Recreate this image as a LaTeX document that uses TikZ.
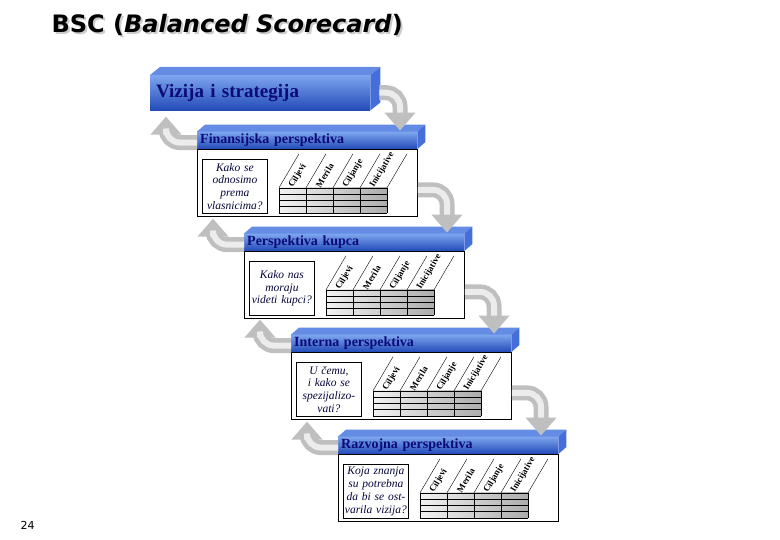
\documentclass[tikz,border=0pt]{standalone}
\usepackage{fontspec}
\setmainfont{Liberation Serif}
\newfontfamily\naslovfont{DejaVu Sans}
\usetikzlibrary{arrows.meta}

\definecolor{tamnoplava}{RGB}{10,10,120}
\definecolor{plavasvetla}{RGB}{125,165,238}
\definecolor{plavatamna}{RGB}{35,75,185}
\definecolor{plavastrana}{RGB}{70,110,218}
\definecolor{plavagore}{RGB}{100,140,228}

\tikzset{
  traka/.style={top color=plavasvetla, bottom color=plavatamna, inner sep=0pt, inner xsep=3pt,
    text width=214pt, align=left, minimum height=17pt, anchor=south west, text=tamnoplava,
    font=\bfseries\fontsize{14}{14}\selectfont},
  telo/.style={draw, fill=white, line width=0.8pt, minimum width=220pt, minimum height=67pt,
    inner sep=0pt, anchor=north west},
  pitanje/.style={draw, fill=white, line width=0.8pt, text width=64pt, align=center,
    minimum height=54pt, inner sep=0.5pt, anchor=north west, text=tamnoplava!50!black,
    font=\itshape\fontsize{11.5}{12.8}\selectfont},
  kolona/.style={rotate=59, anchor=west, inner sep=0pt, font=\bfseries\fontsize{9}{9}\selectfont},
  strelica/.style={line width=15pt, draw=gray!50, rounded corners=14pt,
    -{Triangle[width=30pt,length=18pt]}},
  sjaj/.style={line width=6pt, draw=gray!15, rounded corners=14pt, shorten >=18pt}
}

% jedna perspektiva: ime, polozaj tela, naslov, pitanje
\newcommand{\perspektiva}[4]{%
  \node[telo] (#1) at (#2) {};
  \node[traka] (#1-n) at (#1.north west) {#3};
  \fill[plavagore] (#1-n.north west) -- ++(8,-7) -- ([shift={(8,-7)}]#1-n.north east) -- (#1-n.north east) -- cycle;
  \fill[plavastrana] (#1-n.north east) -- ++(8,-7) -- ([shift={(8,-7)}]#1-n.south east) -- (#1-n.south east) -- cycle;
  \node[pitanje] (#1-p) at ([shift={(5,10)}]#1.north west) {#4};
  % tabela
  \coordinate (#1-t) at ([shift={(82,-4)}]#1.south west);
  \shade[left color=gray!10, right color=gray!65] (#1-t) rectangle ++(108,-25);
  \foreach \i in {0,...,4} {
    \draw ([shift={(27*\i,0)}]#1-t) -- ++(0,-25);
    \draw ([shift={(0,-6.25*\i)}]#1-t) -- ++(108,0);
    \draw[thin] ([shift={(27*\i,-25)}]#1-t) -- ++(20,-34);
  }
  \foreach \lab [count=\i from 0] in {Ciljevi,Merila,Ciljanje,Inicijative}
    \node[kolona] at ([shift={(27*\i+12,-26)}]#1-t) {\lab};
  % krajevi strelica
  \coordinate (#1-d) at ([shift={(0,7)}]#1.east);
  \coordinate (#1-g) at ([shift={(203,-1)}]#1-n.north west);
  \coordinate (#1-l) at ([shift={(0,11)}]#1-n.north west);
}

\begin{document}
\begin{tikzpicture}[x=1pt, y=-1pt]
  \useasboundingbox (0,0) rectangle (780,540);

  %naslov
  \node[anchor=base west, text=gray!40, font=\naslovfont\bfseries\fontsize{24}{24}\selectfont]
    (senka) at (50,35) {BSC (\textit{Balanced Scorecard})};
  \node[anchor=base west, font=\naslovfont\bfseries\fontsize{24}{24}\selectfont]
    (naslov) at (48,33) {BSC (\textit{Balanced Scorecard})};

  %vizija
  \node[traka, anchor=north west, minimum height=35pt, inner xsep=6pt, text width=208pt,
    font=\bfseries\fontsize{19}{19}\selectfont] (viz) at (150,75) {Vizija i strategija};
  \fill[plavagore] (viz.north west) -- ++(10,-8) -- ([shift={(10,-8)}]viz.north east) -- (viz.north east) -- cycle;
  \fill[plavastrana] (viz.north east) -- ++(10,-8) -- ([shift={(10,-8)}]viz.south east) -- (viz.south east) -- cycle;
  \coordinate (viz-d) at ([shift={(9,0)}]viz.east);

  %perspektive
  \perspektiva{fin}{197,149}{Finansijska perspektiva}{Kako se\\ odnosimo\\ prema\\ vlasnicima?}
  \perspektiva{kup}{244,251}{Perspektiva kupca}{Kako nas\\ moraju\\ videti kupci?}
  \perspektiva{int}{291,352}{Interna perspektiva}{U čemu,\\ i kako se\\ spezijalizo-\\ vati?}
  \perspektiva{raz}{338,454}{Razvojna perspektiva}{Koja znanja\\ su potrebna\\ da bi se ost-\\ varila vizija?}

  %strelice
  \foreach \a/\b in {viz/fin, fin/kup, kup/int, int/raz} {
    \draw[strelica] (\a-d) -- (\b-g |- \a-d) -- (\b-g);
    \draw[sjaj] (\a-d) -- (\b-g |- \a-d) -- (\b-g);
    \draw[strelica] (\b-l) -- ++(-31,0) -- ++(0,-26);
    \draw[sjaj] (\b-l) -- ++(-31,0) -- ++(0,-26);
  }

  \node[anchor=base west, font=\naslovfont\fontsize{11}{11}\selectfont] (strana) at (17,529) {24};
\end{tikzpicture}
\end{document}
